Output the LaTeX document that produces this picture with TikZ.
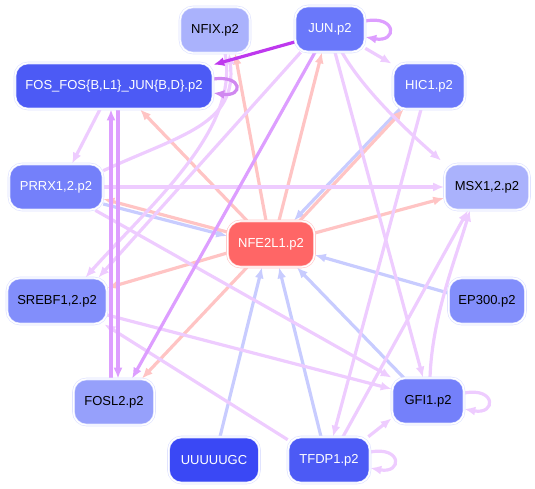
\documentclass[tikz,border=0pt]{standalone}
\usepackage{fontspec}
\setmainfont{Liberation Sans}
\usepackage{xcolor}
\usetikzlibrary{arrows.meta,backgrounds}
\definecolor{rimblue}{RGB}{220,224,255}
\definecolor{nodeA}{RGB}{58,72,245}
\definecolor{nodeB}{RGB}{76,90,245}
\definecolor{nodeC}{RGB}{106,120,250}
\definecolor{nodeD}{RGB}{116,128,250}
\definecolor{nodeE}{RGB}{130,142,251}
\definecolor{nodeF}{RGB}{150,160,251}
\definecolor{nodeG}{RGB}{170,178,252}
\definecolor{nodeRed}{RGB}{255,102,102}
\definecolor{lavline}{RGB}{238,204,255}
\definecolor{midline}{RGB}{221,158,255}
\definecolor{loopline}{RGB}{208,136,240}
\definecolor{strongline}{RGB}{190,56,238}
\definecolor{pinkline}{RGB}{255,196,196}
\definecolor{blueline}{RGB}{200,204,255}

\begin{document}
\begin{tikzpicture}[
  x=1pt, y=-1pt,
  gene/.style={draw=rimblue,double=white,double distance=1.4pt,line width=0.6pt,
    rounded corners=13pt,minimum height=46pt,inner sep=0pt,align=center,
    font=\fontsize{13}{15}\selectfont},
  arr/.style={-{Latex[length=11pt,width=9pt]},line width=3.2pt},
  lav/.style={arr,draw=lavline},
  mid/.style={arr,draw=midline},
  pink/.style={arr,draw=pinkline},
  blue/.style={arr,draw=blueline}
]
\useasboundingbox (0,0) rectangle (535,489);

% genes
\node[gene,fill=nodeG,minimum width=70pt] (nfix) at (215,30) {NFIX.p2};
\node[gene,fill=nodeC,text=white,minimum width=70pt] (jun) at (330,29) {JUN.p2};
\node[gene,fill=nodeB,text=white,minimum width=198pt] (fos) at (114,86) {FOS\_FOS\{B,L1\}\_JUN\{B,D\}.p2};
\node[gene,fill=nodeC,text=white,minimum width=72pt] (hic) at (429,86) {HIC1.p2};
\node[gene,fill=nodeD,text=white,minimum width=94pt] (prrx) at (56,187) {PRRX1,2.p2};
\node[gene,fill=nodeG,minimum width=85pt] (msx) at (487,187) {MSX1,2.p2};
\node[gene,fill=nodeRed,draw=pinkline,text=white,minimum width=87pt] (nfe) at (271,244) {NFE2L1.p2};
\node[gene,fill=nodeE,minimum width=100pt] (srebf) at (57,301) {SREBF1,2.p2};
\node[gene,fill=nodeE,minimum width=77pt] (ep) at (487,301) {EP300.p2};
\node[gene,fill=nodeF,minimum width=81pt] (fosl) at (114,402) {FOSL2.p2};
\node[gene,fill=nodeD,minimum width=72pt] (gfi) at (428,401) {GFI1.p2};
\node[gene,fill=nodeA,text=white,minimum width=91pt] (uuu) at (214,460) {UUUUUGC};
\node[gene,fill=nodeB,text=white,minimum width=82pt] (tfdp) at (329,460) {TFDP1.p2};

\begin{pgfonlayer}{background}
% into NFE2L1
\draw[blue] ([yshift=-17pt]prrx.east) -- ([yshift=8pt]nfe.west);
\draw[blue] ([xshift=7pt]hic.south west) -- ([xshift=-21pt]nfe.north east);
\draw[blue] ([yshift=8pt]ep.west) -- ([yshift=-11pt]nfe.east);
\draw[blue] ([xshift=12pt]gfi.north west) -- ([xshift=-18pt]nfe.south east);
\draw[blue] ([xshift=-8pt]tfdp.north) -- ([xshift=8pt]nfe.south);
\draw[blue] ([xshift=6pt]uuu.north) -- ([xshift=-9pt]nfe.south);
% out of NFE2L1
\draw[pink] ([xshift=-24pt]nfe.north) -- ([xshift=26pt]fos.south);
\draw[pink] ([xshift=8pt]nfe.north) -- ([xshift=-8pt]jun.south);
\draw[pink] ([xshift=-5pt]nfe.north) -- ([xshift=20pt]nfix.south);
\draw[pink] ([xshift=-15pt]nfe.north east) -- ([xshift=11pt]hic.south west);
\draw[pink] ([yshift=11pt]nfe.east) -- ([yshift=-11pt]msx.west);
\draw[pink] ([yshift=12pt]nfe.west) -- ([yshift=-12pt]prrx.east);
\draw[pink] ([yshift=-9pt]nfe.west) -- ([yshift=13pt]srebf.east);
\draw[pink] ([xshift=-24pt]nfe.south) -- ([xshift=-13pt]fosl.north east);
% other links
\draw[lav] ([yshift=4pt]jun.south east) -- ([xshift=-1pt,yshift=-1pt]hic.north west);
\draw[lav] ([xshift=12pt]jun.south) .. controls +(20,35) and +(-40,-35) .. ([xshift=-3pt,yshift=3pt]msx.north west);
\draw[lav] ([xshift=5pt]jun.south) -- ([xshift=-5pt]gfi.north);
\draw[lav] ([xshift=6pt]jun.south west) -- ([xshift=-9pt]srebf.north east);
\draw[lav] ([xshift=10pt]nfix.south) .. controls (240,130) and (150,205) .. ([xshift=-22pt]srebf.north east);
\draw[lav] ([yshift=-7pt]prrx.north east) .. controls (180,135) and (238,125) .. ([xshift=14pt]nfix.south);
\draw[lav] ([xshift=-14pt]fos.south) -- ([xshift=16pt]prrx.north);
\draw[lav] (prrx.east) -- (msx.west);
\draw[lav] ([xshift=-8pt]prrx.south east) -- (gfi.north west);
\draw[lav] ([yshift=-14pt]srebf.east) -- ([yshift=12pt]gfi.west);
\draw[lav] ([yshift=-3pt]tfdp.north west) -- ([xshift=-3pt]srebf.south east);
\draw[lav] ([xshift=-8pt]hic.south) -- ([xshift=4pt]tfdp.north);
\draw[lav] ([xshift=2pt]gfi.north) .. controls +(2,-60) and +(-15,50) .. ([xshift=-17pt]msx.south);
\draw[lav] ([xshift=14pt]tfdp.north) -- ([xshift=-19pt]msx.south);
\draw[lav] ([xshift=-2pt]tfdp.north east) -- ([yshift=6pt]gfi.south west);
\draw[lav] ([yshift=8pt]gfi.east) .. controls +(32,-6) and +(32,6) .. ([yshift=-8pt]gfi.east);
\draw[lav] ([yshift=8pt]tfdp.east) .. controls +(32,-6) and +(32,6) .. ([yshift=-8pt]tfdp.east);
\draw[mid] ([yshift=8pt]jun.east) .. controls +(32,-6) and +(32,6) .. ([yshift=-8pt]jun.east);
\draw[mid] ([xshift=4pt]fos.south) -- ([xshift=4pt]fosl.north);
\draw[mid] ([xshift=-3pt]fosl.north) -- ([xshift=-3pt]fos.south);
\draw[mid] ([xshift=-15pt]jun.south) -- ([xshift=18pt]fosl.north);
\draw[arr,draw=loopline] ([yshift=7pt]fos.east) .. controls +(30,-4) and +(30,4) .. ([yshift=-7pt]fos.east);
\draw[arr,draw=strongline] ([yshift=-13pt]jun.west) -- ([yshift=-2pt]fos.north east);
\end{pgfonlayer}
\end{tikzpicture}
\end{document}
